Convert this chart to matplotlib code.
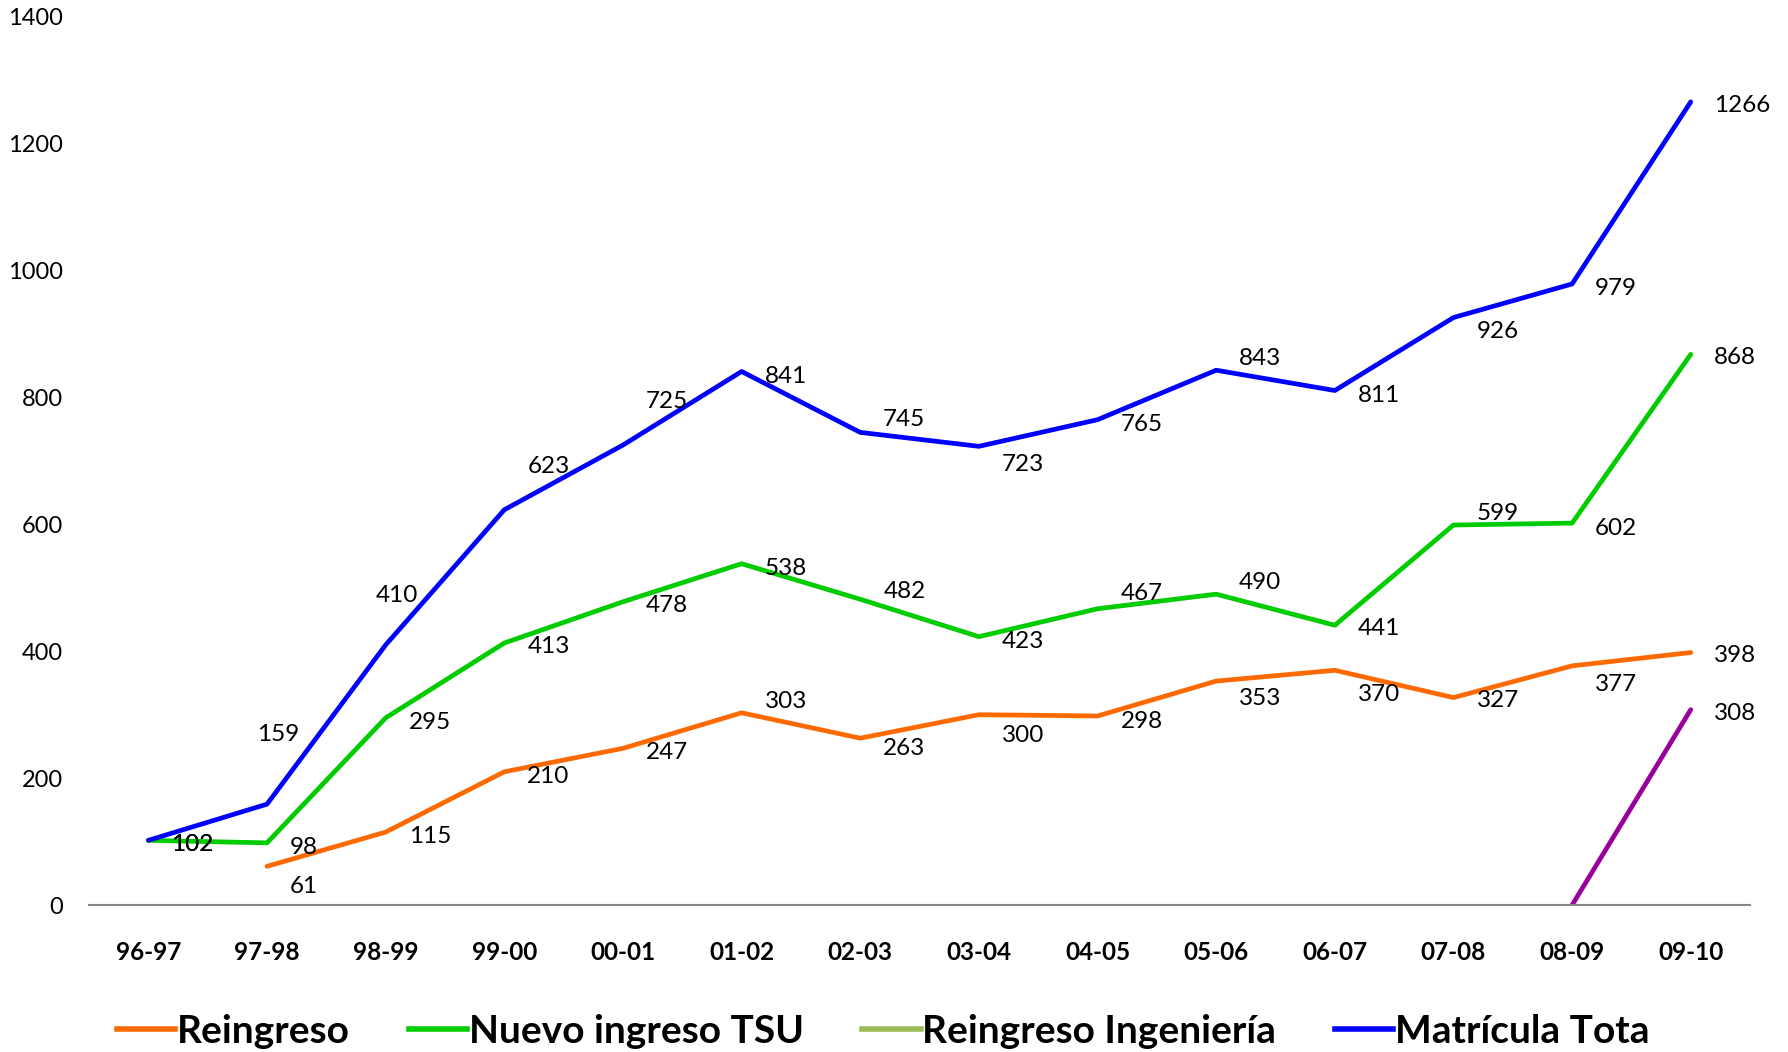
import matplotlib
matplotlib.use('Agg')
import matplotlib.pyplot as plt
from matplotlib.lines import Line2D
import numpy as np

plt.rcParams['font.family'] = ['Lato', 'DejaVu Sans']

ciclos = ['96-97', '97-98', '98-99', '99-00', '00-01', '01-02', '02-03',
          '03-04', '04-05', '05-06', '06-07', '07-08', '08-09', '09-10']
reingreso = [np.nan, 61, 115, 210, 247, 303, 263, 300, 298, 353, 370, 327, 377, 398]
nuevo_tsu = [102, 98, 295, 413, 478, 538, 482, 423, 467, 490, 441, 599, 602, 868]
ingenieria = [np.nan] * 12 + [0, 308]
total = [102, 159, 410, 623, 725, 841, 745, 723, 765, 843, 811, 926, 979, 1266]

# label nudges (pixels, + = down)
dy_total = [1, -64, -46, -41, -41, 1, -14, 13, 1, -13, 1, 9, 1, 0]
dy_tsu = [1, 1, 1, 0, 0, 1, -10, 1, -16, -13, 0, -13, 2, 0]
dy_rein = [0, 15, 1, 1, 1, -13, 6, 15, 2, 12, 18, 0, 13, 0]

c_or, c_gr, c_ol, c_bl, c_pu = '#FF6A00', '#00CC00', '#9BBB59', '#0000FF', '#990099'

fig = plt.figure(figsize=(17.88, 10.52), dpi=100)
ax = fig.add_axes([0.0498, 0.1397, 0.929, 0.8443])
x = np.arange(len(ciclos))

lw = 3.4
ax.plot(x, reingreso, color=c_or, lw=lw, solid_capstyle='round')
ax.plot(x, nuevo_tsu, color=c_gr, lw=lw, solid_capstyle='round')
ax.plot(x, ingenieria, color=c_pu, lw=lw, solid_capstyle='round')
ax.plot(x, total, color=c_bl, lw=lw, solid_capstyle='round')


def etiqueta(i, v, dy, dx=23, ha='left'):
    ax.annotate(str(int(v)), (i, v), xytext=(dx, -(dy + 3) * 1.14),
                textcoords='offset pixels', ha=ha, va='center',
                fontsize=17.5, color='black')


for vals, dys in [(reingreso, dy_rein), (nuevo_tsu, dy_tsu)]:
    for i, v in enumerate(vals):
        if not np.isnan(v):
            etiqueta(i, v, dys[i])
etiqueta(13, ingenieria[13], 0)
for i, v in enumerate(total):
    if i in (1, 2):
        # the two labels Excel pushed above the line
        etiqueta(i, v, dy_total[i], dx=11, ha='center')
    else:
        etiqueta(i, v, dy_total[i])

ax.set_xlim(-0.5, 13.5)
ax.set_ylim(0, 1400)
ax.set_yticks(range(0, 1401, 200))
ax.set_xticks(x)
ax.set_xticklabels(ciclos, fontweight='bold')
ax.tick_params(axis='x', length=0, pad=26, labelsize=17.5)
ax.tick_params(axis='y', length=0, pad=19, labelsize=17)
for s in ['top', 'right', 'left']:
    ax.spines[s].set_visible(False)
ax.spines['bottom'].set_color('#888888')
ax.spines['bottom'].set_linewidth(1.5)

handles = [Line2D([], [], color=c, lw=4) for c in (c_or, c_gr, c_ol, c_bl)]
nombres = ['Reingreso', 'Nuevo ingreso TSU', 'Reingreso Ingeniería', 'Matrícula Tota']
fig.legend(handles, nombres, loc='lower center', bbox_to_anchor=(0.494, -0.03),
           ncol=4, frameon=False, prop={'weight': 'bold', 'size': 28},
           handlelength=1.5, handletextpad=0.05, columnspacing=1.5)

fig.savefig('out.png', dpi=100)
